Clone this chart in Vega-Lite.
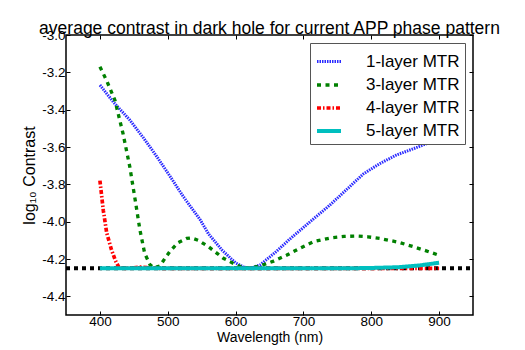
{
  "$schema": "https://vega.github.io/schema/vega-lite/v6.json",
  "width": 407,
  "height": 280,
  "autosize": {"type": "none"},
  "padding": {"left": 66, "top": 35, "right": 52, "bottom": 35},
  "config": {
    "font": "Liberation Sans",
    "view": {"stroke": "black", "strokeWidth": 1.5},
    "axis": {"grid": false, "domainColor": "black", "tickColor": "black", "labelColor": "black", "titleColor": "black", "labelFontSize": 13.5, "titleFontSize": 14, "titleFontWeight": "normal", "tickSize": -4, "labelPadding": 6, "domain": false}
  },
  "title": {"text": "average contrast in dark hole for current APP phase pattern", "fontSize": 17.5, "fontWeight": "normal", "anchor": "middle", "offset": -9, "color": "black", "font": "Liberation Sans"},
  "datasets": {
    "curves": [
      {"series": "1-layer MTR", "wl": 400, "val": -3.268},
      {"series": "1-layer MTR", "wl": 420, "val": -3.36},
      {"series": "1-layer MTR", "wl": 444, "val": -3.455},
      {"series": "1-layer MTR", "wl": 464, "val": -3.55},
      {"series": "1-layer MTR", "wl": 484, "val": -3.652},
      {"series": "1-layer MTR", "wl": 503, "val": -3.755},
      {"series": "1-layer MTR", "wl": 523, "val": -3.866},
      {"series": "1-layer MTR", "wl": 548, "val": -3.991},
      {"series": "1-layer MTR", "wl": 560, "val": -4.065},
      {"series": "1-layer MTR", "wl": 580, "val": -4.152},
      {"series": "1-layer MTR", "wl": 600, "val": -4.221},
      {"series": "1-layer MTR", "wl": 612, "val": -4.243},
      {"series": "1-layer MTR", "wl": 622, "val": -4.25},
      {"series": "1-layer MTR", "wl": 636, "val": -4.232},
      {"series": "1-layer MTR", "wl": 660, "val": -4.16},
      {"series": "1-layer MTR", "wl": 680, "val": -4.093},
      {"series": "1-layer MTR", "wl": 710, "val": -4.0},
      {"series": "1-layer MTR", "wl": 740, "val": -3.908},
      {"series": "1-layer MTR", "wl": 769, "val": -3.81},
      {"series": "1-layer MTR", "wl": 788, "val": -3.745},
      {"series": "1-layer MTR", "wl": 812, "val": -3.69},
      {"series": "1-layer MTR", "wl": 837, "val": -3.643},
      {"series": "1-layer MTR", "wl": 869, "val": -3.6},
      {"series": "1-layer MTR", "wl": 900, "val": -3.555},
      {"series": "3-layer MTR", "wl": 400, "val": -3.17},
      {"series": "3-layer MTR", "wl": 410, "val": -3.245},
      {"series": "3-layer MTR", "wl": 422, "val": -3.348},
      {"series": "3-layer MTR", "wl": 434, "val": -3.527},
      {"series": "3-layer MTR", "wl": 444, "val": -3.705},
      {"series": "3-layer MTR", "wl": 452, "val": -3.884},
      {"series": "3-layer MTR", "wl": 459, "val": -4.045},
      {"series": "3-layer MTR", "wl": 466, "val": -4.17},
      {"series": "3-layer MTR", "wl": 474, "val": -4.232},
      {"series": "3-layer MTR", "wl": 480, "val": -4.247},
      {"series": "3-layer MTR", "wl": 488, "val": -4.238},
      {"series": "3-layer MTR", "wl": 503, "val": -4.16},
      {"series": "3-layer MTR", "wl": 515, "val": -4.113},
      {"series": "3-layer MTR", "wl": 528, "val": -4.09},
      {"series": "3-layer MTR", "wl": 535, "val": -4.087},
      {"series": "3-layer MTR", "wl": 545, "val": -4.1},
      {"series": "3-layer MTR", "wl": 560, "val": -4.134},
      {"series": "3-layer MTR", "wl": 582, "val": -4.196},
      {"series": "3-layer MTR", "wl": 604, "val": -4.237},
      {"series": "3-layer MTR", "wl": 615, "val": -4.246},
      {"series": "3-layer MTR", "wl": 625, "val": -4.246},
      {"series": "3-layer MTR", "wl": 636, "val": -4.237},
      {"series": "3-layer MTR", "wl": 655, "val": -4.213},
      {"series": "3-layer MTR", "wl": 675, "val": -4.18},
      {"series": "3-layer MTR", "wl": 695, "val": -4.142},
      {"series": "3-layer MTR", "wl": 715, "val": -4.107},
      {"series": "3-layer MTR", "wl": 740, "val": -4.087},
      {"series": "3-layer MTR", "wl": 760, "val": -4.079},
      {"series": "3-layer MTR", "wl": 778, "val": -4.077},
      {"series": "3-layer MTR", "wl": 795, "val": -4.081},
      {"series": "3-layer MTR", "wl": 813, "val": -4.09},
      {"series": "3-layer MTR", "wl": 840, "val": -4.11},
      {"series": "3-layer MTR", "wl": 862, "val": -4.134},
      {"series": "3-layer MTR", "wl": 880, "val": -4.155},
      {"series": "3-layer MTR", "wl": 900, "val": -4.18},
      {"series": "4-layer MTR", "wl": 400, "val": -3.78},
      {"series": "4-layer MTR", "wl": 405, "val": -3.94},
      {"series": "4-layer MTR", "wl": 410, "val": -4.06},
      {"series": "4-layer MTR", "wl": 417, "val": -4.15},
      {"series": "4-layer MTR", "wl": 423, "val": -4.21},
      {"series": "4-layer MTR", "wl": 428, "val": -4.245},
      {"series": "4-layer MTR", "wl": 436, "val": -4.25},
      {"series": "4-layer MTR", "wl": 450, "val": -4.247},
      {"series": "4-layer MTR", "wl": 460, "val": -4.243},
      {"series": "4-layer MTR", "wl": 472, "val": -4.247},
      {"series": "4-layer MTR", "wl": 485, "val": -4.25},
      {"series": "4-layer MTR", "wl": 700, "val": -4.25},
      {"series": "4-layer MTR", "wl": 900, "val": -4.25},
      {"series": "5-layer MTR", "wl": 400, "val": -4.25},
      {"series": "5-layer MTR", "wl": 600, "val": -4.25},
      {"series": "5-layer MTR", "wl": 760, "val": -4.25},
      {"series": "5-layer MTR", "wl": 800, "val": -4.248},
      {"series": "5-layer MTR", "wl": 840, "val": -4.244},
      {"series": "5-layer MTR", "wl": 870, "val": -4.235},
      {"series": "5-layer MTR", "wl": 900, "val": -4.22}
    ],
    "baseline": [
      {"wl": 350, "val": -4.25},
      {"wl": 950, "val": -4.25}
    ]
  },
  "layer": [
    {
      "data": {"name": "baseline"},
      "mark": {"type": "line", "color": "black", "strokeDash": [4, 4], "strokeWidth": 4, "clip": true},
      "encoding": {
        "x": {"field": "wl", "type": "quantitative", "scale": {"domain": [350, 950], "nice": false, "zero": false},
              "axis": {"orient": "bottom", "title": "Wavelength (nm)", "values": [400, 500, 600, 700, 800, 900], "titlePadding": 3, "labelPadding": 3}},
        "y": {"field": "val", "type": "quantitative", "scale": {"domain": [-4.5, -3.0], "nice": false, "zero": false},
              "axis": {"orient": "left", "title": "log₁₀ Contrast", "titleFontSize": 16, "values": [-4.4, -4.2, -4.0, -3.8, -3.6, -3.4, -3.2, -3.0], "labelExpr": "replace(format(datum.value, '.1f'), '−', '-')", "titlePadding": 4, "labelPadding": 5}}
      }
    },
    {
      "data": {"name": "curves"},
      "mark": {"type": "line", "clip": true},
      "encoding": {
        "x": {"field": "wl", "type": "quantitative", "axis": null},
        "y": {"field": "val", "type": "quantitative", "axis": null},
        "detail": {"field": "series"},
        "color": {"field": "series", "type": "nominal",
                  "scale": {"domain": ["1-layer MTR", "3-layer MTR", "4-layer MTR", "5-layer MTR"], "range": ["#2b2bff", "#008000", "#ff0000", "#00bfbf"]},
                  "legend": {"title": null, "orient": "none", "legendX": 244, "legendY": 8, "fillColor": "white", "strokeColor": "#555555", "padding": 5, "labelFontSize": 17, "symbolType": "stroke", "symbolSize": 576, "labelOffset": 23, "rowPadding": 1, "labelColor": "black", "cornerRadius": 0}},
        "strokeDash": {"field": "series", "type": "nominal",
                  "scale": {"domain": ["1-layer MTR", "3-layer MTR", "4-layer MTR", "5-layer MTR"], "range": [[1.5, 1], [4, 4.5], [4, 2, 1.5, 2], [1, 0]]},
                  "legend": {"title": null}},
        "strokeWidth": {"field": "series", "type": "nominal",
                  "scale": {"domain": ["1-layer MTR", "3-layer MTR", "4-layer MTR", "5-layer MTR"], "range": [3, 4, 2, 3]},
                  "legend": {"title": null}}
      }
    },
    {
      "data": {"name": "baseline"},
      "mark": {"type": "line", "opacity": 0},
      "encoding": {
        "x": {"field": "wl", "type": "quantitative", "axis": {"orient": "top", "labels": false, "title": null, "values": [400, 500, 600, 700, 800, 900]}},
        "y": {"field": "val", "type": "quantitative", "axis": {"orient": "right", "labels": false, "title": null, "values": [-4.4, -4.2, -4.0, -3.8, -3.6, -3.4, -3.2, -3.0]}}
      }
    }
  ],
  "resolve": {"axis": {"x": "independent", "y": "independent"}}
}
